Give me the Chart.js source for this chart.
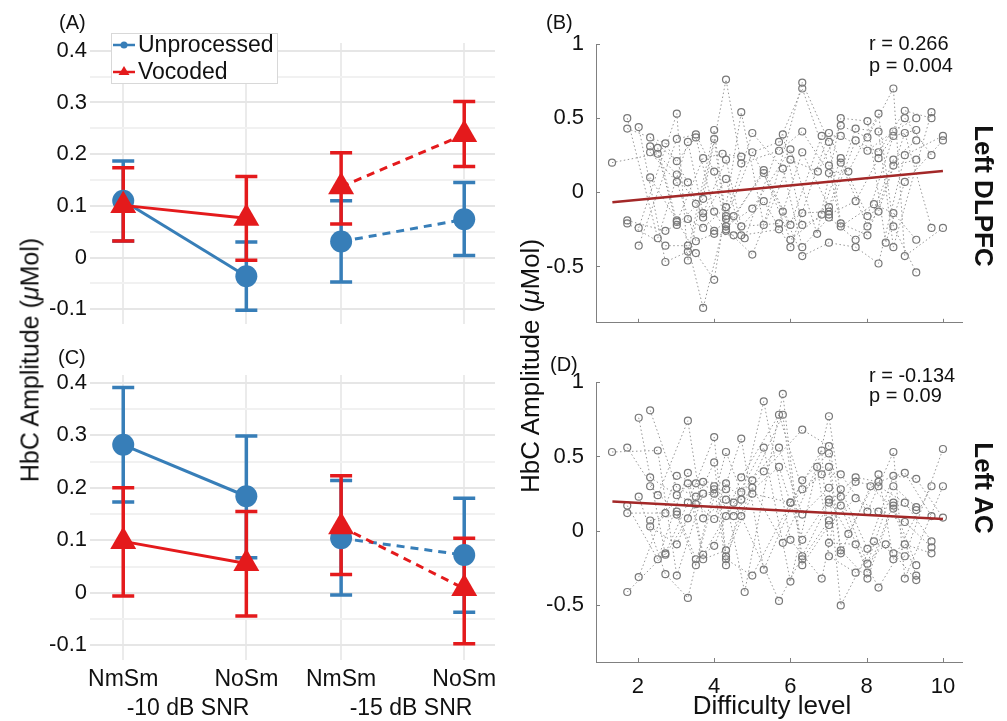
<!DOCTYPE html>
<html>
<head>
<meta charset="utf-8">
<script src="https://cdn.jsdelivr.net/npm/chart.js@4.4.1/dist/chart.umd.min.js"></script>
<style>
body{margin:0;background:#fff;width:1007px;height:721px;position:relative;overflow:hidden;font-family:'Liberation Sans',Arial,sans-serif;color:#111}
canvas{position:absolute}
.t{position:absolute;white-space:nowrap;line-height:1}
.rot{transform:translate(-50%,-50%) rotate(-90deg)}
.rotR{transform:translate(-50%,-50%) rotate(90deg);font-weight:bold}
</style>
</head>
<body>
<canvas id="cA" width="510" height="340" style="left:0;top:0"></canvas>
<canvas id="cC" width="510" height="381" style="left:0;top:340px"></canvas>
<canvas id="cB" width="497" height="340" style="left:510px;top:0"></canvas>
<canvas id="cD" width="497" height="381" style="left:510px;top:340px"></canvas>

<div class="t" style="left:59px;top:12px;font-size:20px">(A)</div>
<div class="t" style="left:58px;top:347px;font-size:20px">(C)</div>
<div class="t" style="left:546px;top:12px;font-size:20px">(B)</div>
<div class="t" style="left:550px;top:354px;font-size:20px">(D)</div>
<div class="t rot" style="left:30px;top:360px;font-size:25px">HbC Amplitude (<i>μ</i>Mol)</div>
<div class="t rot" style="left:530px;top:366px;font-size:26px">HbC Amplitude (<i>μ</i>Mol)</div>
<div class="t rotR" style="left:984px;top:196px;font-size:26px">Left DLPFC</div>
<div class="t rotR" style="left:984px;top:488px;font-size:26px">Left AC</div>
<div class="t" style="left:869px;top:33px;font-size:20px">r = 0.266</div>
<div class="t" style="left:869px;top:55px;font-size:20px">p = 0.004</div>
<div class="t" style="left:869px;top:365px;font-size:20px">r = -0.134</div>
<div class="t" style="left:869px;top:385px;font-size:20px">p = 0.09</div>
<div class="t" id="g1" style="top:696px;font-size:23px"></div>
<div class="t" id="g2" style="top:696px;font-size:23px"></div>
<div class="t" style="left:772px;top:692px;font-size:26px;transform:translateX(-50%)">Difficulty level</div>

<script>
// conditions (x positions on a linear axis) and SNR groups
const conditions = ['NmSm', 'NoSm', 'NmSm', 'NoSm'];
const condPos = [1, 2, 2.77, 3.77];
const snrGroups = ['-10 dB SNR', '-15 dB SNR'];
const ampTicks = [-0.1, -0.05, 0, 0.05, 0.1, 0.15, 0.2, 0.25, 0.3, 0.35, 0.4];

// panel A - Left DLPFC means and error bar ends
const aUnproc   = [0.110, -0.036, 0.031, 0.074];
const aUnprocLo = [0.032, -0.102, -0.047, 0.004];
const aUnprocHi = [0.187, 0.030, 0.110, 0.145];
const aVoc      = [0.101, 0.076, 0.137, 0.238];
const aVocLo    = [0.032, -0.005, 0.065, 0.176];
const aVocHi    = [0.174, 0.157, 0.203, 0.302];

// panel C - Left AC
const cUnproc   = [0.282, 0.184, 0.104, 0.072];
const cUnprocLo = [0.173, 0.067, -0.004, -0.037];
const cUnprocHi = [0.391, 0.299, 0.214, 0.180];
const cVoc      = [0.098, 0.056, 0.126, 0.008];
const cVocLo    = [-0.006, -0.044, 0.035, -0.097];
const cVocHi    = [0.200, 0.155, 0.223, 0.104];

// panel B - difficulty level vs amplitude (Left DLPFC)
const bX = [1.32,1.72,1.72,2.02,2.32,2.32,2.32,2.52,2.52,2.72,3.02,3.02,3.31,3.52,3.52,4.00,4.00,4.31,4.71,5.00,
  5.80,5.70,5.70,6.00,6.00,4.22,4.31,3.71,4.71,4.71,5.00,5.80,5.30,5.30,2.32,3.02,3.02,3.02,3.31,4.00,
  4.31,3.71,3.52,5.30,1.72,1.72,2.02,2.52,2.72,2.02,2.72,3.02,3.02,3.02,3.31,3.71,3.71,3.71,3.52,3.31,
  3.31,3.52,3.31,2.72,4.00,4.00,4.00,4.31,4.31,4.31,4.51,4.31,4.31,4.31,4.51,4.71,4.71,4.80,5.00,5.00,
  5.30,5.70,5.70,5.80,4.00,3.71,
  6.31,6.31,8.70,7.32,7.32,8.02,8.31,9.00,9.00,9.30,9.70,9.70,6.31,6.82,7.01,7.01,7.32,7.71,7.71,8.02,
  8.31,8.70,8.70,9.00,9.30,9.30,10.0,10.0,6.31,8.02,8.31,8.31,7.32,7.32,8.70,8.70,9.00,9.30,9.70,7.01,
  7.01,6.72,7.52,9.00,7.71,8.19,8.31,7.01,7.01,7.01,7.01,6.82,6.31,6.31,7.32,7.32,8.02,8.02,8.70,8.70,
  6.00,6.70,7.01,7.71,7.71,8.02,8.50,8.70,9.30,9.70,10.0,6.31,6.31,9.00,8.31,9.30,6.00,6.00];
const bY = [0.20,0.50,0.43,0.44,0.37,0.31,0.27,0.30,0.26,0.33,0.53,0.36,0.34,0.39,0.37,0.42,0.36,0.76,0.54,0.40,
  0.39,0.34,0.28,0.29,0.22,0.26,0.22,0.23,0.24,0.195,0.27,0.16,0.15,0.13,0.10,0.21,0.12,0.07,0.067,0.14,
  0.09,-0.044,-0.078,-0.06,-0.19,-0.21,-0.24,-0.31,-0.26,-0.36,-0.36,-0.19,-0.20,-0.22,-0.18,-0.14,-0.17,-0.24,-0.33,-0.36,
  -0.40,-0.41,-0.46,-0.47,-0.13,-0.26,-0.28,-0.10,-0.16,-0.18,-0.16,-0.23,-0.25,-0.26,-0.29,-0.23,-0.29,-0.31,-0.11,-0.42,
  -0.22,-0.21,-0.25,-0.13,-0.59,-0.78,
  0.74,0.70,0.70,0.50,0.45,0.48,0.53,0.55,0.50,0.50,0.54,0.50,0.41,0.38,0.40,0.34,0.38,0.43,0.35,0.37,
  0.41,0.41,0.38,0.40,0.42,0.35,0.38,0.35,0.27,0.28,0.27,0.23,0.23,0.20,0.22,0.18,0.25,0.22,0.25,0.18,
  0.13,0.14,0.14,0.07,-0.06,-0.08,-0.13,-0.10,-0.13,-0.15,-0.17,-0.15,-0.14,-0.22,-0.21,-0.23,-0.16,-0.23,-0.14,-0.23,
  -0.22,-0.28,-0.34,-0.32,-0.37,-0.29,-0.34,-0.37,-0.32,-0.24,-0.24,-0.37,-0.43,-0.43,-0.48,-0.54,-0.32,-0.37];
const bFitX = [1.33, 10];
const bFitY = [-0.067, 0.144];

// panel D - difficulty level vs amplitude (Left AC)
const dX = [1.32,1.72,2.02,2.32,2.52,3.31,4.00,4.31,4.71,5.30,5.80,5.70,5.80,5.30,5.70,5.70,5.30,4.00,2.32,2.32,
  3.02,3.02,3.02,2.02,2.52,3.31,3.31,3.52,3.52,3.71,3.71,4.00,4.00,4.00,4.31,4.31,4.31,4.71,4.71,4.71,
  5.00,5.00,5.00,4.51,1.72,1.72,2.32,2.32,2.72,3.02,3.02,3.31,3.31,3.71,4.00,4.31,4.51,4.71,3.52,6.00,
  5.80,3.02,4.00,4.31,4.31,4.31,4.31,2.72,2.72,2.52,3.52,3.71,3.71,3.52,2.72,3.02,2.02,5.00,5.30,1.72,
  3.31,4.80,5.70,
  7.01,6.31,8.70,10.0,6.82,7.01,7.01,6.70,7.01,6.82,7.32,7.71,7.71,8.31,8.31,8.31,8.70,8.70,9.00,9.30,
  9.70,10.0,6.31,6.31,7.01,7.01,7.01,7.32,7.32,7.32,7.71,8.10,6.00,8.70,8.70,8.70,9.00,9.30,9.30,8.02,
  8.31,6.31,7.01,7.01,9.70,10.0,9.00,7.52,6.00,6.31,6.31,6.31,6.31,7.01,7.01,7.32,7.32,7.71,8.02,8.19,
  8.02,7.71,8.50,8.70,8.70,9.00,9.00,9.30,9.30,9.30,9.70,9.70,9.70,8.02,8.02,9.00,6.82,8.31,7.32,6.00];
const dY = [0.53,0.56,0.76,0.81,0.54,0.74,0.63,0.53,0.62,0.87,0.92,0.78,0.78,0.56,0.56,0.43,0.40,0.46,0.36,0.30,
  0.37,0.29,0.24,0.23,0.24,0.39,0.32,0.32,0.23,0.33,0.25,0.30,0.28,0.25,0.32,0.28,0.21,0.36,0.26,0.21,
  0.34,0.29,0.25,0.19,0.17,0.12,0.07,0.03,0.12,0.13,0.11,0.19,0.085,0.085,0.08,0.10,0.10,0.10,0.18,0.19,
  -0.08,-0.09,-0.10,-0.13,-0.17,-0.19,-0.23,-0.15,-0.16,-0.19,-0.19,-0.16,-0.19,-0.23,-0.29,-0.30,-0.31,-0.30,-0.26,-0.41,
  -0.45,-0.41,-0.47,
  0.77,0.68,0.53,0.55,0.54,0.57,0.52,0.43,0.43,0.38,0.38,0.36,0.33,0.38,0.33,0.30,0.37,0.30,0.39,0.35,
  0.30,0.30,0.34,0.28,0.29,0.21,0.19,0.28,0.23,0.17,0.22,0.30,0.19,0.19,0.17,0.15,0.19,0.16,0.14,0.13,
  0.13,0.11,0.07,0.04,0.10,0.09,0.06,-0.02,-0.06,-0.06,-0.17,-0.19,-0.23,-0.08,-0.17,-0.13,-0.15,-0.09,-0.12,-0.07,
  -0.22,-0.28,-0.09,-0.15,-0.19,-0.09,-0.17,-0.23,-0.30,-0.33,-0.07,-0.11,-0.15,-0.28,-0.32,-0.32,-0.32,-0.38,-0.50,-0.34];
const dFitX = [1.33, 10];
const dFitY = [0.197, 0.080];
const diffTicks = [2, 4, 6, 8, 10];
const ampTicksR = [-0.5, 0, 0.5, 1];

const BLUE = '#377eb8', RED = '#e41a1c';
const FONT = "'Liberation Sans', Arial, sans-serif";

// group labels under panel C
const g1 = document.getElementById('g1'), g2 = document.getElementById('g2');
g1.textContent = snrGroups[0]; g2.textContent = snrGroups[1];
g1.style.left = '188px'; g1.style.transform = 'translateX(-50%)';
g2.style.left = '411px'; g2.style.transform = 'translateX(-50%)';

const errorBars = {
  id: 'errorBars',
  beforeDatasetsDraw(chart, args, opts) {
    const {ctx, scales: {x, y}} = chart;
    ctx.save();
    ctx.lineWidth = 3.5;
    opts.sets.forEach(s => {
      ctx.strokeStyle = s.color;
      s.lo.forEach((lo, i) => {
        const px = x.getPixelForValue(condPos[i]);
        const y0 = y.getPixelForValue(lo), y1 = y.getPixelForValue(s.hi[i]);
        ctx.beginPath();
        ctx.moveTo(px, y0); ctx.lineTo(px, y1);
        ctx.moveTo(px - 11, y0); ctx.lineTo(px + 11, y0);
        ctx.moveTo(px - 11, y1); ctx.lineTo(px + 11, y1);
        ctx.stroke();
      });
    });
    ctx.restore();
  }
};

const legendBox = {
  id: 'legendBox',
  afterDraw(chart, args, opts) {
    if (!opts.show) return;
    const ctx = chart.ctx;
    ctx.save();
    ctx.fillStyle = '#fff';
    ctx.fillRect(111, 33, 166, 50);
    ctx.strokeStyle = '#d8d8d8'; ctx.lineWidth = 1;
    ctx.strokeRect(111.5, 33.5, 166, 50);
    ctx.lineWidth = 2.5;
    ctx.strokeStyle = BLUE; ctx.fillStyle = BLUE;
    ctx.beginPath(); ctx.moveTo(113, 45); ctx.lineTo(135, 45); ctx.stroke();
    ctx.beginPath(); ctx.arc(124, 45, 3.5, 0, Math.PI * 2); ctx.fill();
    ctx.strokeStyle = RED; ctx.fillStyle = RED;
    ctx.beginPath(); ctx.moveTo(113, 72); ctx.lineTo(135, 72); ctx.stroke();
    ctx.beginPath(); ctx.moveTo(124, 66); ctx.lineTo(129.5, 75); ctx.lineTo(118.5, 75); ctx.closePath(); ctx.fill();
    ctx.fillStyle = '#111';
    ctx.font = '23px ' + FONT;
    ctx.textBaseline = 'middle';
    ctx.fillText('Unprocessed', 138, 46);
    ctx.fillText('Vocoded', 138, 73);
    ctx.restore();
  }
};

function pts(xs, ys) { return xs.map((v, i) => ({x: v, y: ys[i]})); }

function leftPanel(id, unp, unpLo, unpHi, voc, vocLo, vocHi, padTop, xH, showX, showLegend) {
  const seg = {
    borderColor: c => c.p0DataIndex === 1 ? 'rgba(0,0,0,0)' : undefined,
    borderDash: c => c.p0DataIndex === 2 ? [8, 6] : undefined
  };
  new Chart(document.getElementById(id), {
    type: 'line',
    data: {
      datasets: [
        {data: pts(condPos, voc), borderColor: RED, backgroundColor: RED, borderWidth: 3,
         pointStyle: 'triangle', pointRadius: 15, pointBorderWidth: 0, segment: seg},
        {data: pts(condPos, unp), borderColor: BLUE, backgroundColor: BLUE, borderWidth: 3,
         pointStyle: 'circle', pointRadius: 11, pointBorderWidth: 0, segment: seg}
      ]
    },
    options: {
      responsive: false, animation: false,
      layout: {padding: {top: padTop, right: 12, bottom: 0, left: 0}},
      plugins: {
        legend: {display: false}, tooltip: {enabled: false},
        errorBars: {sets: [{lo: unpLo, hi: unpHi, color: BLUE}, {lo: vocLo, hi: vocHi, color: RED}]},
        legendBox: {show: showLegend}
      },
      scales: {
        x: {
          type: 'linear', min: 0.73, max: 4.02,
          afterBuildTicks: s => { s.ticks = condPos.map(v => ({value: v})); },
          afterFit: s => { s.height = xH; },
          grid: {color: '#ebebeb', lineWidth: 2, drawTicks: false},
          border: {display: false},
          ticks: {display: showX, padding: 6, color: '#111', font: {size: 23, family: FONT},
                  maxRotation: 0, autoSkip: false,
                  callback: (v, i) => conditions[i]}
        },
        y: {
          min: -0.128, max: 0.415,
          afterBuildTicks: s => { s.ticks = ampTicks.map(v => ({value: v})); },
          afterFit: s => { s.width = 90; },
          grid: {color: c => Math.round(c.tick.value * 100) % 10 === 0 ? '#e6e6e6' : '#f1f1f1',
                 lineWidth: 2, drawTicks: false},
          border: {display: false},
          ticks: {padding: 3, color: '#111', font: {size: 22, family: FONT}, autoSkip: false,
                  callback: v => Math.round(v * 100) % 10 !== 0 ? '' : (Math.abs(v) < 1e-9 ? '0' : v.toFixed(1))}
        }
      }
    },
    plugins: [errorBars, legendBox]
  });
}

leftPanel('cA', aUnproc, aUnprocLo, aUnprocHi, aVoc, aVocLo, aVocHi, 43, 11, false, true);
leftPanel('cC', cUnproc, cUnprocLo, cUnprocHi, cVoc, cVocLo, cVocHi, 35, 61, true, false);

const inTicks = {
  id: 'inTicks',
  afterDraw(chart) {
    const {ctx, chartArea: a, scales: {x, y}} = chart;
    ctx.save();
    ctx.strokeStyle = '#808080'; ctx.lineWidth = 1;
    ctx.beginPath();
    x.ticks.forEach(t => { const p = Math.round(x.getPixelForValue(t.value)) + 0.5; ctx.moveTo(p, a.bottom); ctx.lineTo(p, a.bottom - 4); });
    y.ticks.forEach(t => { const p = Math.round(y.getPixelForValue(t.value)) + 0.5; ctx.moveTo(a.left, p); ctx.lineTo(a.left + 4, p); });
    ctx.stroke();
    ctx.restore();
  }
};

function rightPanel(id, xs, ys, fitX, fitY, padTop, xH, showX) {
  // connect points into subject trajectories running left to right
  const order = xs.map((v, i) => i).sort((p, q) => xs[p] - xs[q]);
  const nSubj = 13;
  const traj = [];
  for (let s = 0; s < nSubj; s++) traj.push([]);
  order.forEach((idx, k) => traj[k % nSubj].push({x: xs[idx], y: ys[idx]}));
  const datasets = [{
    data: pts(fitX, fitY), borderColor: '#a32828', borderWidth: 2.5, pointRadius: 0, order: 0
  }];
  traj.forEach(t => datasets.push({
    data: t, borderColor: '#969696', borderWidth: 1, borderDash: [1.5, 2.5],
    pointRadius: 3.5, pointBorderColor: '#787878', pointBackgroundColor: 'rgba(255,255,255,0)',
    pointBorderWidth: 1.2, order: 1
  }));
  new Chart(document.getElementById(id), {
    type: 'line',
    data: {datasets},
    options: {
      responsive: false, animation: false,
      layout: {padding: {top: padTop, right: 45, bottom: 0, left: 0}},
      plugins: {legend: {display: false}, tooltip: {enabled: false}},
      scales: {
        x: {
          type: 'linear', min: 0.9, max: 10.5,
          afterBuildTicks: s => { s.ticks = diffTicks.map(v => ({value: v})); },
          afterFit: s => { s.height = xH; },
          grid: {display: false},
          border: {display: true, color: '#808080', width: 1},
          ticks: {display: showX, padding: 4, color: '#111', font: {size: 22, family: FONT}, maxRotation: 0}
        },
        y: {
          min: -0.88, max: 1,
          afterBuildTicks: s => { s.ticks = ampTicksR.map(v => ({value: v})); },
          afterFit: s => { s.width = 86; },
          grid: {display: false},
          border: {display: true, color: '#808080', width: 1},
          ticks: {padding: 4, color: '#111', font: {size: 22, family: FONT},
                  callback: v => String(v)}
        }
      }
    },
    plugins: [inTicks]
  });
}

rightPanel('cB', bX, bY, bFitX, bFitY, 44, 14, false);
rightPanel('cD', dX, dY, dFitX, dFitY, 42, 59, true);
</script>
</body>
</html>
